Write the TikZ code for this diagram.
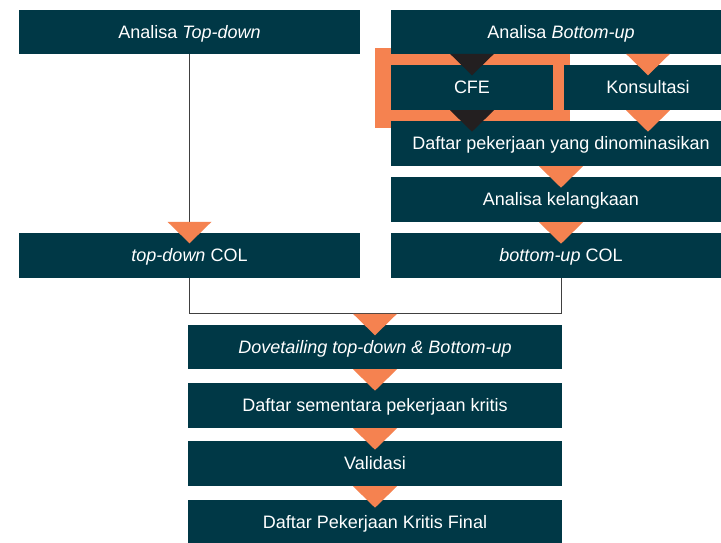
\documentclass[tikz,border=0pt]{standalone}
\usepackage{fontspec}
\setmainfont{Liberation Sans}
\usetikzlibrary{calc}
\definecolor{boxteal}{HTML}{003846}
\definecolor{accent}{HTML}{F58250}
\definecolor{tipdark}{HTML}{231F20}
\tikzset{
  stepbox/.style={fill=boxteal, text=white, inner sep=0pt, minimum height=45pt,
    text height=12.5pt, text depth=0pt,
    font=\fontsize{18}{21}\selectfont},
  wide/.style={stepbox, minimum width=340pt},
  link/.style={draw=black!75, line width=0.9pt},
  pics/downtri/.style={code={\fill[#1] (-22,0) -- (22,0) -- (0,21.5) -- cycle;}},
}
\begin{document}
\begin{tikzpicture}[x=1pt,y=-1pt]
\useasboundingbox (0,0) rectangle (721,542);
\clip (0,0) rectangle (721,542);
\fill[white] (0,0) rectangle (721,542);

% highlight frame around the CFE step
\fill[accent] (375,48) rectangle (570,128);

% top row
\node[wide, minimum width=341pt, minimum height=44pt] (td) at (189.5,32) {Analisa \textit{Top-down}};
\node[wide, minimum height=44pt] (bu) at (561,32) {Analisa \textit{Bottom-up}};

% bottom-up branch
\node[stepbox, minimum width=162pt] (cfe) at (472,87.5) {CFE};
\node[stepbox, minimum width=168pt] (kons) at (648,87.5) {Konsultasi};
\node[wide] (dn) at (561,143.5) {Daftar pekerjaan yang dinominasikan};
\node[wide] (ak) at (561,199.5) {Analisa kelangkaan};

% COL row
\node[wide, minimum width=341pt] (tdcol) at (189.5,255.5) {\textit{top-down} COL};
\node[wide] (bucol) at (561,255.5) {\textit{bottom-up} COL};

% merged column
\node[stepbox, minimum width=374pt, minimum height=44pt] (dove) at (375,347) {\textit{Dovetailing top-down \& Bottom-up}};
\node[stepbox, minimum width=374pt] (sem) at (375,405.5) {Daftar sementara pekerjaan kritis};
\node[stepbox, minimum width=374pt] (val) at (375,463.5) {Validasi};
\node[stepbox, minimum width=374pt] (fin) at (375,522.5) {Daftar Pekerjaan Kritis Final};

% connectors
\coordinate (join) at ($(dove.north)+(0,-11)$);
\draw[link] (td.south) -- (tdcol.north);
\draw[link] (tdcol.south) |- (join) -| (bucol.south);

% flow markers
\pic at ($(cfe.north)+(0,-11)$) {downtri=tipdark};
\pic at (cfe.south) {downtri=tipdark};
\pic at ($(kons.north)+(0,-11)$) {downtri=accent};
\pic at (kons.south) {downtri=accent};
\pic at (dn.south) {downtri=accent};
\pic at (ak.south) {downtri=accent};
\pic at ($(tdcol.north)+(0,-11)$) {downtri=accent};
\pic at (join) {downtri=accent};
\pic at (dove.south) {downtri=accent};
\pic at (sem.south) {downtri=accent};
\pic at (val.south) {downtri=accent};
\end{tikzpicture}
\end{document}
